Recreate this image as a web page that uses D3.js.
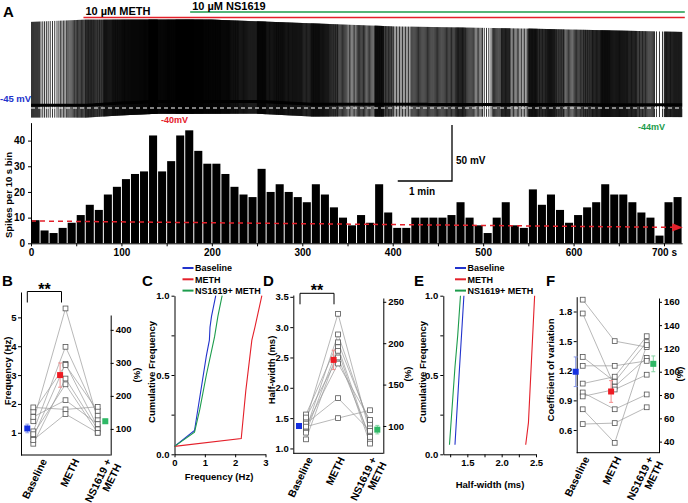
<!DOCTYPE html>
<html><head><meta charset="utf-8">
<script src="https://cdn.jsdelivr.net/npm/d3@7"></script>
<style>
body{margin:0;background:#fff;}
svg text{font-family:"Liberation Sans",Arial,Helvetica,sans-serif;font-weight:bold;}
</style></head><body>
<svg id="c" width="688" height="503"></svg>
<script>
// ---------------- DATA ----------------
// A: spikes per 10 s bin (0..720 s)
const spikeCounts = [9,5,4,6,8,11,15,13,19,22,25,27,28,42,28,32,42,44,36,31,31,27,22,19,18,29,20,23,20,18,16,23,19,14,10,7,
  11,8,23,12,6,6,10,10,10,10,11,16,10,7,4,10,16,7,6,21,15,19,13,8,11,14,16,23,19,19,16,12,10,3,16,18];
const histXTicks = [0,100,200,300,400,500,600,700];
const histYTicks = [0,10,20,30,40];
const trendT = [0, 715];
const trendV = [8.7, 6.2];
const drugNames = ["10 \u00B5M METH", "10 \u00B5M NS1619"];
const drugStart = [58, 176];
const drugEnd = 723;
// membrane trace envelope (mV) read from the recording
const peakT = [0, 60, 200, 300, 400, 550, 720];
const peakMv = [31, 33, 33, 30, 27, 25, 22];
const baseT = [0, 60, 100, 140, 250, 310, 720];
const baseMv = [-43.5, -43.5, -41.5, -40, -40, -42.5, -43];
const troughDrop = 11;
const vLabels = ["-45 mV", "-40mV", "-44mV"];

// B-F
const groups = ["Baseline", "METH", "NS1619 + METH"];
const groupLines = [["Baseline"], ["METH"], ["NS1619 +", "METH"]];
const freqBase = [1.40, 1.05, 0.85, 1.73, 0.62, 0.95, 1.55, 1.88, 0.75];
const freqMeth = [5.31, 3.98, 3.39, 3.35, 2.88, 2.68, 2.13, 1.81, 1.65];
const freqNs   = [1.46, 1.60, 1.20, 1.76, 1.12, 1.00, 1.30, 1.90, 1.00];
const freqMean = [1.15, 3.00, 1.40];
const freqSem  = [0.15, 0.42, 0.07];

const hwBase = [1.46, 1.31, 1.56, 1.26, 1.15, 1.51, 1.36, 1.41, 1.36];
const hwMeth = [3.22, 2.88, 2.75, 2.67, 2.61, 2.50, 2.40, 1.83, 1.50];
const hwNs   = [1.25, 1.36, 1.41, 1.14, 1.08, 1.19, 1.47, 1.29, 1.63];
const hwMean = [1.37, 2.46, 1.31];
const hwSem  = [0.03, 0.16, 0.07];

const cvBase = [1.92, 1.78, 1.34, 1.25, 1.07, 0.98, 0.94, 0.81, 0.66];
const cvMeth = [1.50, 1.04, 1.09, 1.25, 1.14, 0.81, 1.01, 0.47, 0.67];
const cvNs   = [1.44, 1.33, 1.49, 1.30, 1.55, 0.96, 1.16, 1.46, 0.83];
const cvMean = [1.19, 0.99, 1.27];
const cvSem  = [0.15, 0.11, 0.08];

const legendNames = ["Baseline", "METH", "NS1619+ METH"];
const cumFreq = [
  [[0,0.05],[0.66,0.15],[1.05,0.62],[1.15,0.72],[1.17,0.80],[1.22,0.87],[1.36,1.0]],
  [[0,0.05],[2.2,0.10],[2.35,0.40],[2.55,0.72],[2.65,0.80],[2.88,1.0]],
  [[0,0.05],[0.66,0.14],[0.83,0.28],[1.05,0.50],[1.32,0.74],[1.43,0.87],[1.57,1.0]]
];
const cumHw = [
  [[1.32,0.06],[1.38,0.5],[1.45,1.0]],
  [[2.35,0.06],[2.39,0.20],[2.48,1.0]],
  [[1.24,0.06],[1.32,0.55],[1.36,0.75],[1.40,1.0]]
];

// ---------------- STYLE ----------------
const FONT = "'Liberation Sans', Arial, Helvetica, sans-serif";
const COL = ["#2233cc", "#e4202a", "#1c9c4c"];
const MEANCOL = ["#1530e0", "#ee1c24", "#2fb866"];
const ERRCOL = ["#8898e8", "#f28c8c", "#86d4a4"];

const svg = d3.select("#c");

function styleAxis(g, size) {
  g.attr("font-family", FONT).attr("font-size", size || 10).attr("font-weight", "bold");
  g.selectAll("path.domain").attr("stroke", "#000").attr("stroke-width", 1);
  g.selectAll(".tick line").attr("stroke", "#000");
  g.selectAll(".tick text").attr("fill", "#000");
}
function txt(x, y, s, size, color, anchor) {
  return svg.append("text").attr("x", x).attr("y", y).attr("font-size", size)
    .attr("fill", color || "#000").attr("text-anchor", anchor || "start").text(s);
}

// ---------------- A: trace + histogram ----------------
const xT = d3.scaleLinear().domain([0, 700]).range([31, 664]);
const yH = d3.scaleLinear().domain([0, 40]).range([243.3, 140.6]);
const yV = d3.scaleLinear().domain([-45, 5]).range([107, 51]);
const peakS = d3.scaleLinear().domain(peakT).range(peakMv);
const baseS = d3.scaleLinear().domain(baseT).range(baseMv);

txt(3, 17, "A", 15);

// drug bars
drugStart.forEach((t0, i) => {
  const yy = i === 0 ? 17.5 : 12;
  svg.append("line").attr("x1", xT(t0)).attr("x2", xT(drugEnd)).attr("y1", yy).attr("y2", yy)
    .attr("stroke", i === 0 ? COL[1] : COL[2]).attr("stroke-width", 1.6);
  txt(xT(t0) + 2, i === 0 ? 15 : 9.5, drugNames[i], 11);
});

// spike train built from the per-bin counts
let spikeD = "";
const spikeTimes = [];
spikeCounts.forEach((n, i) => {
  for (let k = 0; k < n; k++) spikeTimes.push(i * 10 + (k + 0.5) * 10 / n);
});
spikeTimes.forEach(t => {
  const b = baseS(t);
  spikeD += `M${xT(t).toFixed(2)},${yV(peakS(t)).toFixed(2)}V${yV(b - troughDrop).toFixed(2)}`;
});
svg.append("path").attr("d", spikeD).attr("stroke", "#000").attr("stroke-width", 0.8).attr("fill", "none");
// baseline band
const bline = d3.line().x(d => xT(d)).y(d => yV(baseS(d))).curve(d3.curveBasis);
svg.append("path").attr("d", bline(d3.range(0, 721, 5))).attr("stroke", "#000")
  .attr("stroke-width", 3).attr("fill", "none");
// -45 mV reference
svg.append("line").attr("x1", xT(0)).attr("x2", xT(722)).attr("y1", yV(-45) + 1).attr("y2", yV(-45) + 1)
  .attr("stroke", "#fff").attr("stroke-width", 1).attr("stroke-dasharray", "4,3");
txt(0, 102, vLabels[0], 9.5, COL[0]);
txt(161, 123, vLabels[1], 9, COL[1]);
txt(638, 130, vLabels[2], 9, COL[2]);

// scale bar
const sbX = 452, sbY = 181;
svg.append("path").attr("d", `M${sbX - (xT(60) - xT(0))},${sbY}H${sbX}V${sbY - (yV(5) - yV(-45)) * -1}`)
  .attr("stroke", "#000").attr("stroke-width", 1.3).attr("fill", "none");
txt(456, 164, "50 mV", 10);
txt(409, 195, "1 min", 10);

// histogram bars
const bw = xT(10) - xT(0);
svg.append("g").selectAll("rect").data(spikeCounts).join("rect")
  .attr("x", (d, i) => xT(i * 10) + 0.5).attr("width", bw - 1)
  .attr("y", d => yH(d)).attr("height", d => yH(0) - yH(d)).attr("fill", "#000");
// trend arrow
svg.append("defs").append("marker").attr("id", "arr").attr("viewBox", "0 0 10 10")
  .attr("refX", 5).attr("refY", 5).attr("markerWidth", 7).attr("markerHeight", 7).attr("orient", "auto")
  .append("path").attr("d", "M0,1L10,5L0,9z").attr("fill", COL[1]);
svg.append("line").attr("x1", xT(trendT[0])).attr("y1", yH(trendV[0]))
  .attr("x2", xT(trendT[1])).attr("y2", yH(trendV[1]))
  .attr("stroke", COL[1]).attr("stroke-width", 1.5).attr("stroke-dasharray", "5,4")
  .attr("marker-end", "url(#arr)");
// histogram axes
const gHx = svg.append("g").attr("transform", `translate(0,${yH(0)})`)
  .call(d3.axisBottom(xT.copy().domain([0, 720]).range([xT(0), xT(720)])).tickValues(d3.range(0, 721, 50))
    .tickFormat(d => d % 100 === 0 ? (d === 700 ? "700 s" : d) : "").tickSize(3).tickSizeOuter(0).tickPadding(3));
styleAxis(gHx, 10);
const gHy = svg.append("g").attr("transform", `translate(${xT(0)},0)`)
  .call(d3.axisLeft(yH.copy().domain([0, 47]).range([yH(0), yH(47)])).tickValues(histYTicks)
    .tickSize(3).tickSizeOuter(0).tickPadding(3));
styleAxis(gHy, 10);
svg.append("text").attr("transform", `translate(11.5,195) rotate(-90)`).attr("text-anchor", "middle")
  .attr("font-size", 9.5).text("Spikes per 10 s bin");

// ---------------- scatter panels ----------------
function scatterPanel(o) {
  const yL = d3.scaleLinear().domain(o.leftDomain).range([o.bottom, o.leftTop]);
  const yR = d3.scaleLinear().domain(o.rightDomain).range([o.bottom, o.rightTop]);
  const x = d3.scalePoint().domain(groups).range(o.catRange);
  const g = svg.append("g");
  g.append("line").attr("x1", o.axisL).attr("x2", o.axisR).attr("y1", o.bottom).attr("y2", o.bottom)
    .attr("stroke", "#000");
  const gl = g.append("g").attr("transform", `translate(${o.axisL},0)`)
    .call(d3.axisLeft(yL).tickValues(o.leftTicks).tickFormat(o.leftFmt).tickSize(3).tickSizeOuter(0).tickPadding(1.5));
  styleAxis(gl, 9.5);
  const gr = g.append("g").attr("transform", `translate(${o.axisR},0)`)
    .call(d3.axisRight(yR).tickValues(o.rightTicks).tickSize(3).tickSizeOuter(0).tickPadding(2));
  styleAxis(gr, 9.5);
  const sets = [o.base, o.meth, o.ns];
  const line = d3.line().x((d, j) => x(groups[j])).y(d => yL(d));
  o.base.forEach((_, i) => {
    g.append("path").attr("d", line([o.base[i], o.meth[i], o.ns[i]])).attr("fill", "none")
      .attr("stroke", "#9a9a9a").attr("stroke-width", 0.7);
  });
  sets.forEach((arr, j) => {
    g.selectAll(null).data(arr).join("rect")
      .attr("x", x(groups[j]) - 2.4).attr("y", d => yL(d) - 2.4).attr("width", 4.8).attr("height", 4.8)
      .attr("fill", "#fff").attr("stroke", "#555").attr("stroke-width", 0.8);
  });
  o.mean.forEach((m, j) => {
    const cx = x(groups[j]) + o.meanOff[j];
    g.append("line").attr("x1", cx).attr("x2", cx).attr("y1", yL(m - o.sem[j])).attr("y2", yL(m + o.sem[j]))
      .attr("stroke", ERRCOL[j]).attr("stroke-width", 1);
    [m - o.sem[j], m + o.sem[j]].forEach(v => g.append("line").attr("x1", cx - 2).attr("x2", cx + 2)
      .attr("y1", yL(v)).attr("y2", yL(v)).attr("stroke", ERRCOL[j]).attr("stroke-width", 1));
    g.append("rect").attr("x", cx - 3).attr("y", yL(m) - 3).attr("width", 6).attr("height", 6).attr("fill", MEANCOL[j]);
  });
  // category labels
  groupLines.forEach((lines, j) => {
    const t = g.append("text").attr("transform", `translate(${x(groups[j]) + o.labOff},${o.bottom + 6}) rotate(-64)`)
      .attr("text-anchor", "end").attr("font-size", 10.5);
    lines.forEach((ln, k) => t.append("tspan").attr("x", 0).attr("dy", k ? 11 : 0).text(ln));
  });
  g.append("text").attr("transform", `translate(${o.yLabX},${o.yLabY}) rotate(-90)`).attr("text-anchor", "middle")
    .attr("font-size", 9.5).text(o.yLabel);
  g.append("text").attr("transform", `translate(${o.axisR + o.pctDx},${o.yLabY + 4}) rotate(-90)`).attr("text-anchor", "middle")
    .attr("font-size", 9.5).text("(%)");
  txt(o.letter[1], o.letter[2], o.letter[0], 15);
  if (o.bracket) {
    const bx1 = x(groups[0]) - 6, bx2 = x(groups[1]) - 4;
    g.append("path").attr("d", `M${bx1},${o.bracket + 11}V${o.bracket}H${bx2}V${o.bracket + 11}`)
      .attr("fill", "none").attr("stroke", "#000").attr("stroke-width", 1);
    g.append("text").attr("x", (bx1 + bx2) / 2).attr("y", o.bracket + 3).attr("text-anchor", "middle")
      .attr("font-size", 16).text("**");
  }
}

scatterPanel({
  leftDomain: [0.23, 5.88], leftTop: 292, rightDomain: [21, 445], rightTop: 315, bottom: 455,
  axisL: 21, axisR: 110.7, catRange: [33.3, 97.7], leftTicks: [1, 2, 3, 4, 5], leftFmt: d3.format("d"),
  rightTicks: [100, 200, 300, 400], base: freqBase, meth: freqMeth, ns: freqNs,
  mean: freqMean, sem: freqSem, meanOff: [-6, -5.4, 7.6], yLabel: "Frequency (Hz)", yLabX: 11, yLabY: 371,
  pctDx: 29, letter: ["B", 2, 286], bracket: 291.5, labOff: 14
});
scatterPanel({
  leftDomain: [0.92, 3.53], leftTop: 295, rightDomain: [67, 254.6], rightTop: 298, bottom: 453.3,
  axisL: 293.3, axisR: 383.3, catRange: [306, 370], leftTicks: [1, 1.5, 2, 2.5, 3, 3.5], leftFmt: d3.format(".1f"),
  rightTicks: [100, 150, 200, 250], base: hwBase, meth: hwMeth, ns: hwNs,
  mean: hwMean, sem: hwSem, meanOff: [-7, -4.4, 7.3], yLabel: "Half-width (ms)", yLabX: 275, yLabY: 370,
  pctDx: 28, letter: ["D", 263, 286], bracket: 293.3, labOff: 7
});
scatterPanel({
  leftDomain: [0.37, 1.95], leftTop: 296.7, rightDomain: [30.5, 163.3], rightTop: 298, bottom: 452.7,
  axisL: 576.7, axisR: 659, catRange: [582.7, 646.7], leftTicks: [0.6, 0.9, 1.2, 1.5, 1.8], leftFmt: d3.format(".1f"),
  rightTicks: [40, 60, 80, 100, 120, 140, 160], base: cvBase, meth: cvMeth, ns: cvNs,
  mean: cvMean, sem: cvSem, meanOff: [-7, -3.6, 6.6], yLabel: "Coefficient of variation", yLabX: 554, yLabY: 370,
  pctDx: 24, letter: ["F", 546, 286], bracket: null, labOff: 7
});

// ---------------- cumulative panels ----------------
function cumPanel(o) {
  const x = d3.scaleLinear().domain(o.xDomain).range(o.xRange);
  const y = d3.scaleLinear().domain([0, 1]).range([454.3, 295.7]);
  const g = svg.append("g");
  const gx = g.append("g").attr("transform", `translate(0,${y(0)})`)
    .call(d3.axisBottom(x).tickValues(o.xTicks).tickFormat(o.xFmt).tickSize(3).tickSizeOuter(0).tickPadding(2));
  styleAxis(gx, 9.5);
  const gy = g.append("g").attr("transform", `translate(${o.xRange[0]},0)`)
    .call(d3.axisLeft(y).tickValues([0, 0.25, 0.5, 0.75, 1]).tickFormat(d => (d * 4) % 2 === 0 ? d3.format(".1f")(d) : "")
      .tickSize(3).tickSizeOuter(0).tickPadding(2));
  styleAxis(gy, 9.5);
  const line = d3.line().x(d => x(d[0])).y(d => y(d[1]));
  o.curves.forEach((c, i) => g.append("path").attr("d", line(c)).attr("fill", "none")
    .attr("stroke", COL[i]).attr("stroke-width", 1.1));
  legendNames.forEach((nm, i) => {
    const ly = 268 + i * 11.3;
    g.append("line").attr("x1", o.legX).attr("x2", o.legX + 11).attr("y1", ly).attr("y2", ly)
      .attr("stroke", COL[i]).attr("stroke-width", 2);
    g.append("text").attr("x", o.legX + 12.5).attr("y", ly + 3.3).attr("font-size", 9).text(nm);
  });
  g.append("text").attr("transform", `translate(${o.yLabX},372) rotate(-90)`).attr("text-anchor", "middle")
    .attr("font-size", 9.5).text("Cumulative Frequency");
  g.append("text").attr("x", o.xLab[0]).attr("y", o.xLab[1]).attr("text-anchor", "middle")
    .attr("font-size", 9.5).text(o.xLabel);
  txt(o.letter[1], o.letter[2], o.letter[0], 15);
}
cumPanel({
  xDomain: [0, 3], xRange: [174.5, 265.5], xTicks: [0, 1, 2, 3], xFmt: d3.format("d"), curves: cumFreq,
  legX: 182.5, yLabX: 155, xLab: [219, 480], xLabel: "Frequency (Hz)", letter: ["C", 142, 286]
});
cumPanel({
  xDomain: [1.15, 2.5], xRange: [443.3, 536], xTicks: [1.25, 1.5, 1.75, 2, 2.25, 2.5],
  xFmt: d => (d * 4) % 2 === 0 ? d3.format(".1f")(d) : "", curves: cumHw,
  legX: 455, yLabX: 425.5, xLab: [490, 488], xLabel: "Half-width (ms)", letter: ["E", 414, 286]
});
</script>
</body></html>
